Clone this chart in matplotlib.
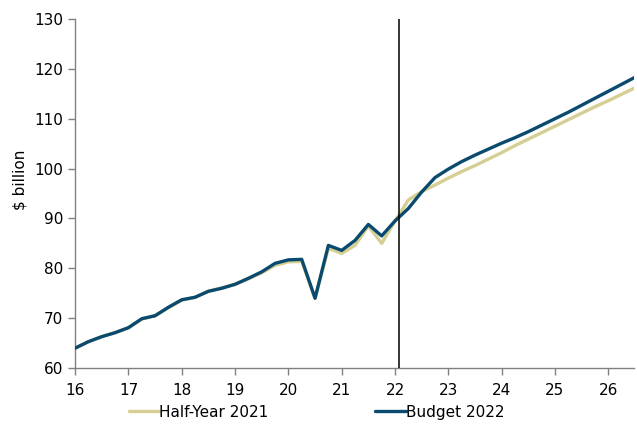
import numpy as np
import matplotlib
matplotlib.use("Agg")
import matplotlib.pyplot as plt

# ----------------------------
# Dados (trimestrais, ano fiscal)
# ----------------------------
anos = np.arange(16.0, 26.51, 0.25)

half_year_2021 = [
    64.0, 65.3, 66.3, 67.1, 68.1, 69.8, 70.5, 72.1, 73.6, 74.2, 75.4, 76.1,
    76.8, 77.9, 79.1, 80.6, 81.3, 81.4, 74.0, 84.0, 83.0, 84.6, 88.5, 85.0,
    89.5, 93.7, 95.4, 96.7, 98.1, 99.4, 100.6, 101.9, 103.2, 104.6, 105.9,
    107.2, 108.5, 109.8, 111.1, 112.4, 113.6, 114.9, 116.2,
]

budget_2022 = [
    64.0, 65.3, 66.3, 67.1, 68.1, 69.9, 70.5, 72.2, 73.7, 74.2, 75.4, 76.0,
    76.8, 78.0, 79.3, 81.0, 81.7, 81.8, 74.0, 84.6, 83.6, 85.6, 88.8, 86.5,
    89.5, 92.0, 95.3, 98.2, 99.9, 101.4, 102.7, 103.9, 105.1, 106.2, 107.4,
    108.7, 110.0, 111.3, 112.7, 114.1, 115.5, 116.9, 118.3,
]

linha_vertical = 22.075

# ----------------------------
# Gráfico
# ----------------------------
plt.rcParams["font.family"] = ["DejaVu Sans"]

fig = plt.figure(figsize=(6.37, 4.32), dpi=100)
ax = fig.add_axes([0.118, 0.148, 0.877, 0.808])

ax.plot(anos, half_year_2021, color="#D6CF93", lw=2.4, label="Half-Year 2021",
        solid_capstyle="round", zorder=2)
ax.plot(anos, budget_2022, color="#0A4A6F", lw=2.4, label="Budget 2022",
        solid_capstyle="round", zorder=3)
ax.axvline(linha_vertical, color="black", lw=1.1, zorder=4)

ax.set_xlim(16, 26.48)
ax.set_ylim(60, 130)
ax.set_xticks(range(16, 27))
ax.set_yticks(range(60, 131, 10))

for lado in ["top", "right"]:
    ax.spines[lado].set_visible(False)
for lado in ["left", "bottom"]:
    ax.spines[lado].set_color("#808080")
    ax.spines[lado].set_linewidth(1.0)

ax.tick_params(axis="both", colors="#808080", labelcolor="black",
               labelsize=11, length=5, width=1.0, direction="out")
ax.tick_params(axis="x", pad=6)

ax.set_ylabel("\\$ billion", fontsize=11)
ax.yaxis.set_label_coords(-0.085, 0.54)

ax.legend(loc="upper center", bbox_to_anchor=(0.432, -0.065), ncol=2,
          frameon=False, fontsize=11, handlelength=2.0, handletextpad=0.0,
          columnspacing=7.0)

plt.savefig("out.png", dpi=100)
